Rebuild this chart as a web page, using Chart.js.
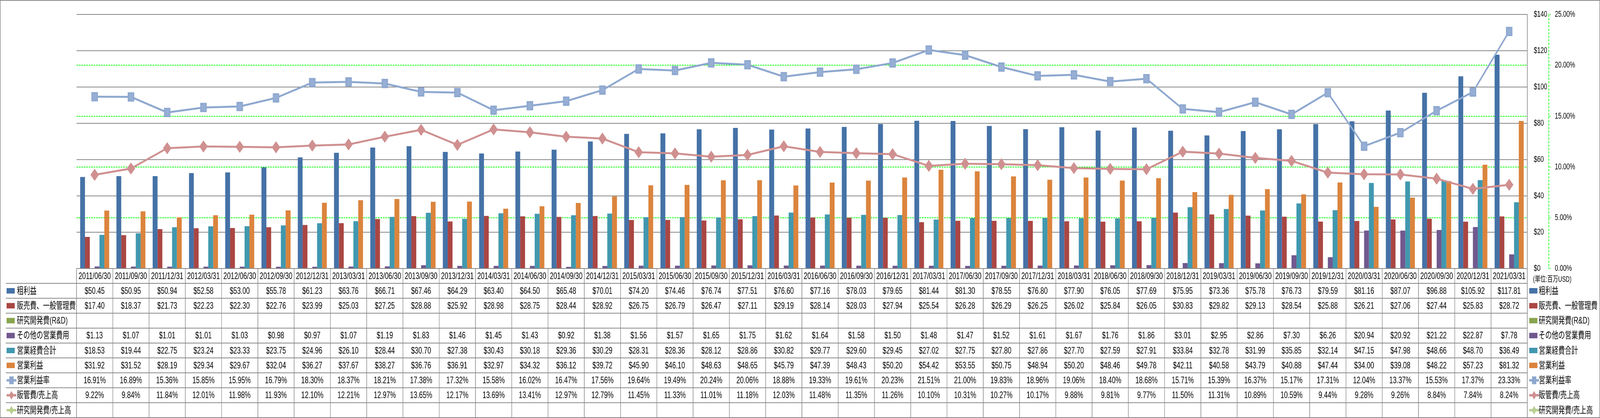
<!DOCTYPE html>
<html><head><meta charset="utf-8">
<script src="https://cdn.jsdelivr.net/npm/chart.js@4.4.1/dist/chart.umd.min.js"></script>
<style>html,body{margin:0;padding:0;background:#fff;overflow:hidden}canvas{display:block}</style>
</head><body>
<canvas id="c" width="5876" height="1071" style="width:100vw;height:100vh"></canvas>
<script>
const categories = ['2011/06/30','2011/09/30','2011/12/31','2012/03/31','2012/06/30','2012/09/30','2012/12/31','2013/03/31','2013/06/30','2013/09/30','2013/12/31','2014/03/31','2014/06/30','2014/09/30','2014/12/31','2015/03/31','2015/06/30','2015/09/30','2015/12/31','2016/03/31','2016/06/30','2016/09/30','2016/12/31','2017/03/31','2017/06/30','2017/09/30','2017/12/31','2018/03/31','2018/06/30','2018/09/30','2018/12/31','2019/03/31','2019/06/30','2019/09/30','2019/12/31','2020/03/31','2020/06/30','2020/09/30','2020/12/31','2021/03/31'];
const grossProfit = [50.45,50.95,50.94,52.58,53.00,55.78,61.23,63.76,66.71,67.46,64.29,63.40,64.50,65.48,70.01,74.20,74.46,76.74,77.51,76.60,77.16,78.03,79.65,81.44,81.30,78.55,76.80,77.90,76.05,77.69,75.95,73.36,75.78,76.73,79.59,81.16,87.07,96.88,105.92,117.81];
const sgaExpense = [17.40,18.37,21.73,22.23,22.30,22.76,23.99,25.03,27.25,28.88,25.92,28.98,28.75,28.44,28.92,26.75,26.79,26.47,27.11,29.19,28.14,28.03,27.94,25.54,26.28,26.29,26.25,26.02,25.84,26.05,30.83,29.82,29.13,28.54,25.88,26.21,27.06,27.44,25.83,28.72];
const rndExpense = [];
const otherOpExpense = [1.13,1.07,1.01,1.01,1.03,0.98,0.97,1.07,1.19,1.83,1.46,1.45,1.43,0.92,1.38,1.56,1.57,1.65,1.75,1.62,1.64,1.58,1.50,1.48,1.47,1.52,1.61,1.67,1.76,1.86,3.01,2.95,2.86,7.30,6.26,20.94,20.92,21.22,22.87,7.78];
const totalOpExpense = [18.53,19.44,22.75,23.24,23.33,23.75,24.96,26.10,28.44,30.70,27.38,30.43,30.18,29.36,30.29,28.31,28.36,28.12,28.86,30.82,29.77,29.60,29.45,27.02,27.75,27.80,27.86,27.70,27.59,27.91,33.84,32.78,31.99,35.85,32.14,47.15,47.98,48.66,48.70,36.49];
const operatingIncome = [31.92,31.52,28.19,29.34,29.67,32.04,36.27,37.67,38.27,36.76,36.91,32.97,34.32,36.12,39.72,45.90,46.10,48.63,48.65,45.79,47.39,48.43,50.20,54.42,53.55,50.75,48.94,50.20,48.46,49.78,42.11,40.58,43.79,40.88,47.44,34.00,39.08,48.22,57.23,81.32];
const opMarginPct = [16.91,16.89,15.36,15.85,15.95,16.79,18.30,18.37,18.21,17.38,17.32,15.58,16.02,16.47,17.56,19.64,19.49,20.24,20.06,18.88,19.33,19.61,20.23,21.51,21.00,19.83,18.96,19.06,18.40,18.68,15.71,15.39,16.37,15.17,17.31,12.04,13.37,15.53,17.37,23.33];
const sgaRatioPct = [9.22,9.84,11.84,12.01,11.98,11.93,12.10,12.21,12.97,13.65,12.17,13.69,13.41,12.97,12.79,11.45,11.33,11.01,11.18,12.03,11.48,11.35,11.26,10.10,10.31,10.27,10.17,9.88,9.81,9.77,11.50,11.31,10.89,10.59,9.44,9.28,9.26,8.84,7.84,8.24];
const rndRatioPct = [];
const dollarTicks = [0,20,40,60,80,100,120,140];
const pctTicks = [0,5,10,15,20,25];
const unitLabel = '(単位:百万USD)';

const FONT = '"Liberation Sans","Noto Sans CJK JP",sans-serif';
const C = {blue:'#4572A7', red:'#AA4643', green:'#89A54E', purple:'#71588F', teal:'#4198AF', orange:'#DB843D',
  lblue:'#8EA8CF', pink:'#D09090', lgreen:'#B7CE8F', grid:'#888888', lime:'#00FF00'};

const rows = [
  {label:'粗利益', data:grossProfit, money:true, kind:'bar', color:C.blue},
  {label:'販売費、一般管理費', data:sgaExpense, money:true, kind:'bar', color:C.red},
  {label:'研究開発費(R&D)', data:rndExpense, money:true, kind:'bar', color:C.green},
  {label:'その他の営業費用', data:otherOpExpense, money:true, kind:'bar', color:C.purple},
  {label:'営業経費合計', data:totalOpExpense, money:true, kind:'bar', color:C.teal},
  {label:'営業利益', data:operatingIncome, money:true, kind:'bar', color:C.orange},
  {label:'営業利益率', data:opMarginPct, money:false, kind:'line', color:C.lblue, marker:'rect'},
  {label:'販管費/売上高', data:sgaRatioPct, money:false, kind:'line', color:C.pink, marker:'diamond'},
  {label:'研究開発費/売上高', data:rndRatioPct, money:false, kind:'line', color:C.lgreen, marker:'diamond'}
];

function drawKey(ctx, r, x, cy) {
  if (r.kind === 'bar') {
    ctx.fillStyle = r.color;
    ctx.fillRect(x, cy - 7, 30, 14);
  } else {
    ctx.strokeStyle = r.color; ctx.lineWidth = 6;
    ctx.beginPath(); ctx.moveTo(x, cy); ctx.lineTo(x + 36, cy); ctx.stroke();
    ctx.fillStyle = r.color;
    const mx = x + 18;
    ctx.beginPath();
    if (r.marker === 'rect') { ctx.rect(mx - 8, cy - 10, 16, 20); }
    else { ctx.moveTo(mx, cy - 11); ctx.lineTo(mx + 9, cy); ctx.lineTo(mx, cy + 11); ctx.lineTo(mx - 9, cy); ctx.closePath(); }
    ctx.fill();
  }
}

const tablePlugin = {
  id: 'dataTable',
  beforeDraw(chart) {
    const ctx = chart.ctx;
    ctx.save(); ctx.fillStyle = '#fff'; ctx.fillRect(0, 0, chart.width, chart.height); ctx.restore();
  },
  afterDraw(chart) {
    const ctx = chart.ctx, ca = chart.chartArea, xs = chart.scales.x, yp = chart.scales.yP;
    const n = categories.length;
    const colW = (ca.right - ca.left) / n;
    const top = ca.bottom, headH = 38, bottom = 1070;
    const rowH = (bottom - top - headH) / rows.length;
    ctx.save();
    ctx.strokeStyle = C.lime; ctx.lineWidth = 2; ctx.setLineDash([6, 3]);
    ctx.beginPath(); ctx.moveTo(yp.left + 1, ca.top); ctx.lineTo(yp.left + 1, ca.bottom); ctx.stroke();
    ctx.setLineDash([]);
    ctx.strokeStyle = C.grid; ctx.lineWidth = 2;
    ctx.beginPath();
    ctx.moveTo(ca.left, top); ctx.lineTo(ca.right, top);
    for (let r = 0; r <= rows.length; r++) {
      const y = top + headH + r * rowH;
      ctx.moveTo(21, y); ctx.lineTo(ca.right, y);
    }
    for (let i = 0; i <= n; i++) {
      const x = ca.left + i * colW;
      ctx.moveTo(x, top); ctx.lineTo(x, bottom);
    }
    ctx.stroke();
    ctx.fillStyle = '#000'; ctx.textAlign = 'center'; ctx.textBaseline = 'middle';
    ctx.font = '24px ' + FONT;
    for (let i = 0; i < n; i++) {
      ctx.fillText(categories[i], xs.getPixelForValue(i), top + headH / 2 + 1);
    }
    rows.forEach((r, ri) => {
      const cy = top + headH + ri * rowH + rowH / 2;
      ctx.textAlign = 'center'; ctx.fillStyle = '#000';
      for (let i = 0; i < n; i++) {
        const v = r.data[i];
        if (v === undefined || v === null) continue;
        const s = r.money ? '$' + v.toFixed(2) : v.toFixed(2) + '%';
        ctx.fillText(s, xs.getPixelForValue(i), cy + 1);
      }
      drawKey(ctx, r, 24, cy);
      ctx.fillStyle = '#000'; ctx.textAlign = 'left';
      ctx.fillText(r.label, 62, cy + 1);
      drawKey(ctx, r, ca.right + 7, cy);
      ctx.fillStyle = '#000'; ctx.textAlign = 'left';
      ctx.fillText(r.label, ca.right + 42, cy + 1);
    });
    ctx.font = '20px ' + FONT; ctx.textAlign = 'left';
    ctx.fillText(unitLabel, ca.right + 21, top + 28);
    ctx.strokeStyle = C.grid; ctx.lineWidth = 2;
    ctx.strokeRect(1, 1, chart.width - 2, chart.height - 2);
    ctx.restore();
  }
};

const barDs = rows.filter(r => r.kind === 'bar').map(r => ({
  type: 'bar', label: r.label, data: r.data, backgroundColor: r.color, yAxisID: 'yD', order: 2,
  categoryPercentage: 0.8, barPercentage: 1.0
}));
const lineDs = [
  {type:'line', label:rows[6].label, data:opMarginPct, borderColor:C.lblue, borderWidth:5, yAxisID:'yP', order:0,
   pointStyle:'rect', pointRadius:14, pointBackgroundColor:'#97AED5', pointBorderColor:C.lblue, pointBorderWidth:4, tension:0},
  {type:'line', label:rows[7].label, data:sgaRatioPct, borderColor:C.pink, borderWidth:5, yAxisID:'yP', order:1,
   pointStyle:'rectRot', pointRadius:15, pointBackgroundColor:C.pink, pointBorderColor:C.pink, pointBorderWidth:1, tension:0},
  {type:'line', label:rows[8].label, data:rndRatioPct, borderColor:C.lgreen, borderWidth:5, yAxisID:'yP', order:1,
   pointStyle:'rectRot', pointRadius:15, pointBackgroundColor:C.lgreen, tension:0}
];

new Chart(document.getElementById('c'), {
  data: { labels: categories, datasets: [...barDs, ...lineDs] },
  options: {
    responsive: false, devicePixelRatio: 1, animation: false,
    layout: { padding: { left: 281, top: 15, right: 89, bottom: 383 } },
    plugins: { legend: { display: false }, tooltip: { enabled: false } },
    scales: {
      x: { type: 'category', display: false, offset: true },
      yD: {
        type: 'linear', position: 'right', weight: 0, min: 0, max: 140,
        afterBuildTicks: s => { s.ticks = dollarTicks.map(v => ({value: v})); },
        afterFit: s => { s.width = 78; },
        ticks: { callback: v => '$' + v, color: '#000', font: { size: 22, family: FONT }, padding: 24 },
        grid: { color: C.grid, lineWidth: 2, drawTicks: false },
        border: { display: true, color: C.grid, width: 2 }
      },
      yP: {
        type: 'linear', position: 'right', weight: 1, min: 0, max: 25,
        afterBuildTicks: s => { s.ticks = pctTicks.map(v => ({value: v})); },
        afterFit: s => { s.width = 100; },
        ticks: { callback: v => Number(v).toFixed(2) + '%', color: '#000', font: { size: 22, family: FONT }, padding: 14 },
        grid: { color: c => (c.tick && (c.tick.value === 0 || c.tick.value === 25)) ? 'rgba(0,0,0,0)' : C.lime,
                lineWidth: 2, drawTicks: true, tickLength: 9, tickColor: C.lime, tickBorderDash: [3, 2] },
        border: { display: false, dash: [6, 3] }
      }
    }
  },
  plugins: [tablePlugin]
});
</script>
</body></html>
